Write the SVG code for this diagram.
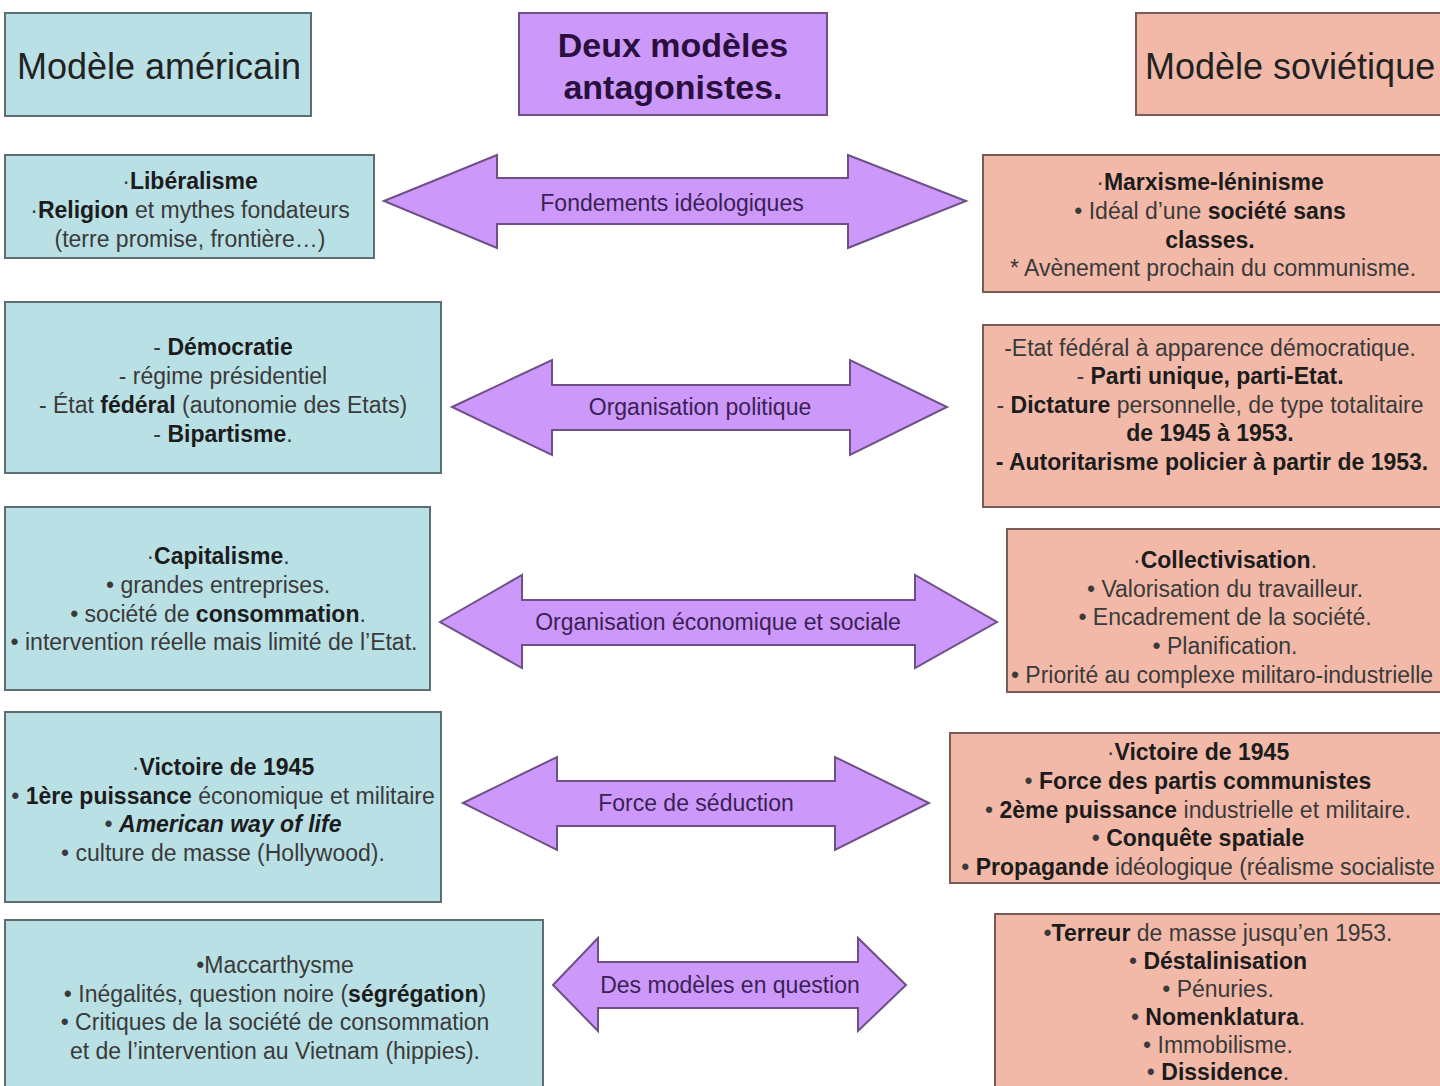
<svg xmlns="http://www.w3.org/2000/svg" width="1440" height="1086" viewBox="0 0 1440 1086">
<style>
.us{fill:#b9e0e5;stroke:#5d6e73;stroke-width:2}
.su{fill:#f2b9a8;stroke:#7a5c56;stroke-width:2}
.pu{fill:#cc99fa;stroke:#6e4f86;stroke-width:2}
.t{font-family:"Liberation Sans",Arial,sans-serif;font-size:23px;fill:#3a3a3a;text-anchor:middle}
.b{font-weight:bold;fill:#1c1c1c}
.h{font-family:"Liberation Sans",Arial,sans-serif;font-size:36px;fill:#222}
.hb{font-family:"Liberation Sans",Arial,sans-serif;font-size:34px;font-weight:bold;fill:#2a0f3d;text-anchor:middle}
.al{font-family:"Liberation Sans",Arial,sans-serif;font-size:23px;fill:#3b1f55;text-anchor:middle}
</style>
<rect width="1440" height="1086" fill="#fff"/>
<g id="head-us"><rect class="us" x="5" y="13" width="306" height="103"/><text class="h" x="17" y="79">Modèle américain</text></g>
<g id="head-title"><rect class="pu" x="519" y="13" width="308" height="102"/><text class="hb" x="673" y="57">Deux modèles</text><text class="hb" x="673" y="99">antagonistes.</text></g>
<g id="head-su"><rect class="su" x="1136" y="13" width="310" height="102"/><text class="h" x="1145" y="79">Modèle soviétique</text></g>

<g id="connectors">
<g id="arrow1"><polygon class="pu" points="384,201 497,155 497,178 848,178 848,155 966,201 848,248 848,224 497,224 497,248"/><text class="al" x="672" y="211">Fondements idéologiques</text></g>
<g id="arrow2"><polygon class="pu" points="452,407 552,360 552,385 850,385 850,360 947,407 850,455 850,430 552,430 552,455"/><text class="al" x="700" y="415">Organisation politique</text></g>
<g id="arrow3"><polygon class="pu" points="440,622 522,575 522,600 915,600 915,575 997,622 915,668 915,645 522,645 522,668"/><text class="al" x="718" y="630">Organisation économique et sociale</text></g>
<g id="arrow4"><polygon class="pu" points="463,803 557,757 557,781 835,781 835,757 929,803 835,850 835,826 557,826 557,850"/><text class="al" x="696" y="811">Force de séduction</text></g>
<g id="arrow5"><polygon class="pu" points="553,985 598,938 598,962 858,962 858,938 906,985 858,1031 858,1008 598,1008 598,1031"/><text class="al" x="730" y="993">Des modèles en question</text></g>
</g>

<g id="us1"><rect class="us" x="5" y="155" width="369" height="103"/>
<text class="t" x="190" y="189">·<tspan class="b">Libéralisme</tspan></text>
<text class="t" x="190" y="218">·<tspan class="b">Religion</tspan> et mythes fondateurs</text>
<text class="t" x="190" y="247">(terre promise, frontière…)</text></g>

<g id="su1"><rect class="su" x="983" y="155" width="460" height="137"/>
<text class="t" x="1210" y="190">·<tspan class="b">Marxisme-léninisme</tspan></text>
<text class="t" x="1210" y="219">• Idéal d’une <tspan class="b">société sans</tspan></text>
<text class="t b" x="1210" y="248">classes.</text>
<text class="t" x="1213" y="276">* Avènement prochain du communisme.</text></g>

<g id="us2"><rect class="us" x="5" y="302" width="436" height="171"/>
<text class="t" x="223" y="355">- <tspan class="b">Démocratie</tspan></text>
<text class="t" x="223" y="384">-  régime présidentiel</text>
<text class="t" x="223" y="413">- État <tspan class="b">fédéral</tspan> (autonomie des Etats)</text>
<text class="t" x="223" y="442">- <tspan class="b">Bipartisme</tspan>.</text></g>

<g id="su2"><rect class="su" x="983" y="325" width="460" height="182"/>
<text class="t" x="1210" y="356">-Etat fédéral à apparence démocratique.</text>
<text class="t" x="1210" y="384">- <tspan class="b">Parti unique, parti-Etat.</tspan></text>
<text class="t" x="1210" y="413">- <tspan class="b">Dictature</tspan> personnelle, de type totalitaire</text>
<text class="t b" x="1210" y="441">de 1945 à 1953.</text>
<text class="t b" x="1212" y="470">- Autoritarisme policier à partir de 1953.</text></g>

<g id="us3"><rect class="us" x="5" y="507" width="425" height="183"/>
<text class="t" x="218" y="564">·<tspan class="b">Capitalisme</tspan>.</text>
<text class="t" x="218" y="593">• grandes entreprises.</text>
<text class="t" x="218" y="622">• société de <tspan class="b">consommation</tspan>.</text>
<text class="t" x="214" y="650">• intervention réelle mais limité de l’Etat.</text></g>

<g id="su3"><rect class="su" x="1007" y="529" width="436" height="163"/>
<text class="t" x="1225" y="568">·<tspan class="b">Collectivisation</tspan>.</text>
<text class="t" x="1225" y="597">• Valorisation du travailleur.</text>
<text class="t" x="1225" y="625">• Encadrement de la société.</text>
<text class="t" x="1225" y="654">• Planification.</text>
<text class="t" x="1222" y="683">• Priorité au complexe militaro-industrielle</text></g>

<g id="us4"><rect class="us" x="5" y="712" width="436" height="190"/>
<text class="t" x="223" y="775">·<tspan class="b">Victoire de 1945</tspan></text>
<text class="t" x="223" y="804">• <tspan class="b">1ère puissance</tspan> économique et militaire</text>
<text class="t" x="223" y="832">• <tspan class="b" font-style="italic">American way of life</tspan></text>
<text class="t" x="223" y="861">• culture de masse (Hollywood).</text></g>

<g id="su4"><rect class="su" x="950" y="733" width="493" height="150"/>
<text class="t" x="1198" y="760">·<tspan class="b">Victoire de 1945</tspan></text>
<text class="t" x="1198" y="789">• <tspan class="b">Force des partis communistes</tspan></text>
<text class="t" x="1198" y="818">• <tspan class="b">2ème puissance</tspan> industrielle et militaire.</text>
<text class="t" x="1198" y="846">• <tspan class="b">Conquête spatiale</tspan></text>
<text class="t" x="1198" y="875">• <tspan class="b">Propagande</tspan> idéologique (réalisme socialiste</text></g>

<g id="us5"><rect class="us" x="5" y="920" width="538" height="172"/>
<text class="t" x="275" y="973">•Maccarthysme</text>
<text class="t" x="275" y="1002">• Inégalités, question noire (<tspan class="b">ségrégation</tspan>)</text>
<text class="t" x="275" y="1030">• Critiques de la société de consommation</text>
<text class="t" x="275" y="1059">et de l’intervention au Vietnam (hippies).</text></g>

<g id="su5"><rect class="su" x="995" y="914" width="448" height="178"/>
<text class="t" x="1218" y="941">•<tspan class="b">Terreur</tspan> de masse jusqu’en 1953.</text>
<text class="t" x="1218" y="969">• <tspan class="b">Déstalinisation</tspan></text>
<text class="t" x="1218" y="997">• Pénuries.</text>
<text class="t" x="1218" y="1025">• <tspan class="b">Nomenklatura</tspan>.</text>
<text class="t" x="1218" y="1053">• Immobilisme.</text>
<text class="t" x="1218" y="1080">• <tspan class="b">Dissidence</tspan>.</text></g>
</svg>
